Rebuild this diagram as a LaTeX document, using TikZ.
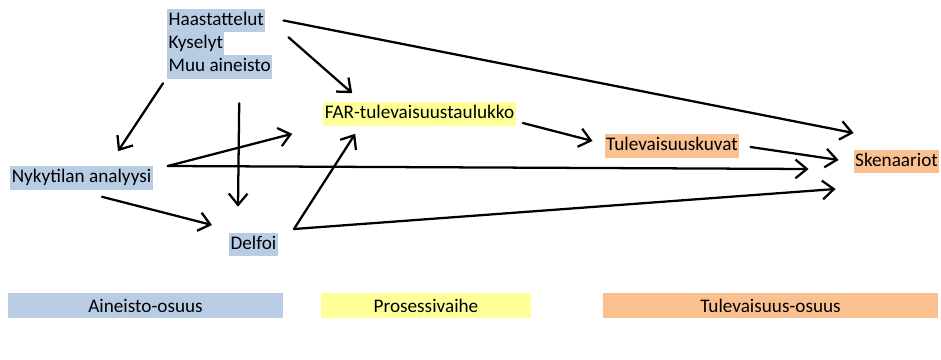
\documentclass[tikz,border=0pt]{standalone}
\usepackage{fontspec}
\setmainfont{Carlito}
\usetikzlibrary{arrows.meta}
\definecolor{aineisto}{HTML}{B8CCE4}
\definecolor{prosessi}{HTML}{FFFF99}
\definecolor{tulevaisuus}{HTML}{FAC090}
\tikzset{
	hl/.style={inner xsep=1pt,inner ysep=1.5pt,text height=10.7pt,text depth=3.6pt,font=\fontsize{14.4}{17}\selectfont},
	legend/.style={minimum height=18.75pt,inner sep=0pt,font=\fontsize{14.4}{17}\selectfont}
}
\begin{document}
\begin{tikzpicture}[line cap=round,line join=round,>={Straight Barb[length=8.5pt,width=14pt]},x=0.75pt,y=-0.75pt]
		\useasboundingbox (0,0) rectangle (941,360);
		\node[hl,fill=aineisto,anchor=west] (haast) at (167,20.5) {Haastattelut};
		\node[hl,fill=aineisto,anchor=west] (kysely) at (167,43.5) {Kyselyt};
		\node[hl,fill=aineisto,anchor=west] (muu) at (167,67) {Muu aineisto};
		\node[hl,fill=aineisto] (nyky) at (81.5,178) {Nykytilan analyysi};
		\node[hl,fill=aineisto] (delfoi) at (253.5,244.5) {Delfoi};
		\node[hl,fill=prosessi] (far) at (419.5,114) {FAR-tulevaisuustaulukko};
		\node[hl,fill=tulevaisuus] (kuvat) at (672,146) {Tulevaisuuskuvat};
		\node[hl,fill=tulevaisuus] (sken) at (896.5,161.5) {Skenaariot};
		\begin{scope}[line width=1.7pt]
			\draw [->] ([shift={(18,0)}]haast.east) -- ([shift={(0,-28.5)}]sken.west);
			\draw [->] ([shift={(23,5)}]haast.south east) -- ([shift={(29,-9)}]far.north west);
			\draw [->] ([shift={(-4,4.5)}]muu.south west) -- ([shift={(36.5,-15)}]nyky.north);
			\draw [->] ([shift={(19.5,24.5)}]muu.south) -- ([shift={(-15.5,-26)}]delfoi.north);
			\draw [->] ([shift={(15,-12)}]nyky.east) -- ([shift={(-31,8)}]far.south west);
			\draw [->] ([shift={(15,-12)}]nyky.east) -- ([shift={(-45,7.5)}]sken.west);
			\draw [->] ([shift={(20.5,7)}]nyky.south) -- ([shift={(-17,-19.5)}]delfoi.west);
			\draw [->] ([shift={(16,-15.5)}]delfoi.east) -- ([shift={(32,8)}]far.south west);
			\draw [->] ([shift={(16,-15.5)}]delfoi.east) -- ([shift={(-18,27.5)}]sken.west);
			\draw [->] ([shift={(7,9)}]far.east) -- ([shift={(-12,-5)}]kuvat.west);
			\draw [->] ([shift={(11,1)}]kuvat.east) -- ([shift={(-15,-1.5)}]sken.west);
		\end{scope}
		% selite
		\node[legend,fill=aineisto,minimum width=206.25pt] (legA) at (145.5,305.5) {Aineisto-osuus};
		\node[legend,fill=prosessi,minimum width=157.5pt] (legP) at (426,305.5) {Prosessivaihe};
		\node[legend,fill=tulevaisuus,minimum width=251.25pt] (legT) at (770.5,305.5) {Tulevaisuus-osuus};
	\end{tikzpicture}
\end{document}
